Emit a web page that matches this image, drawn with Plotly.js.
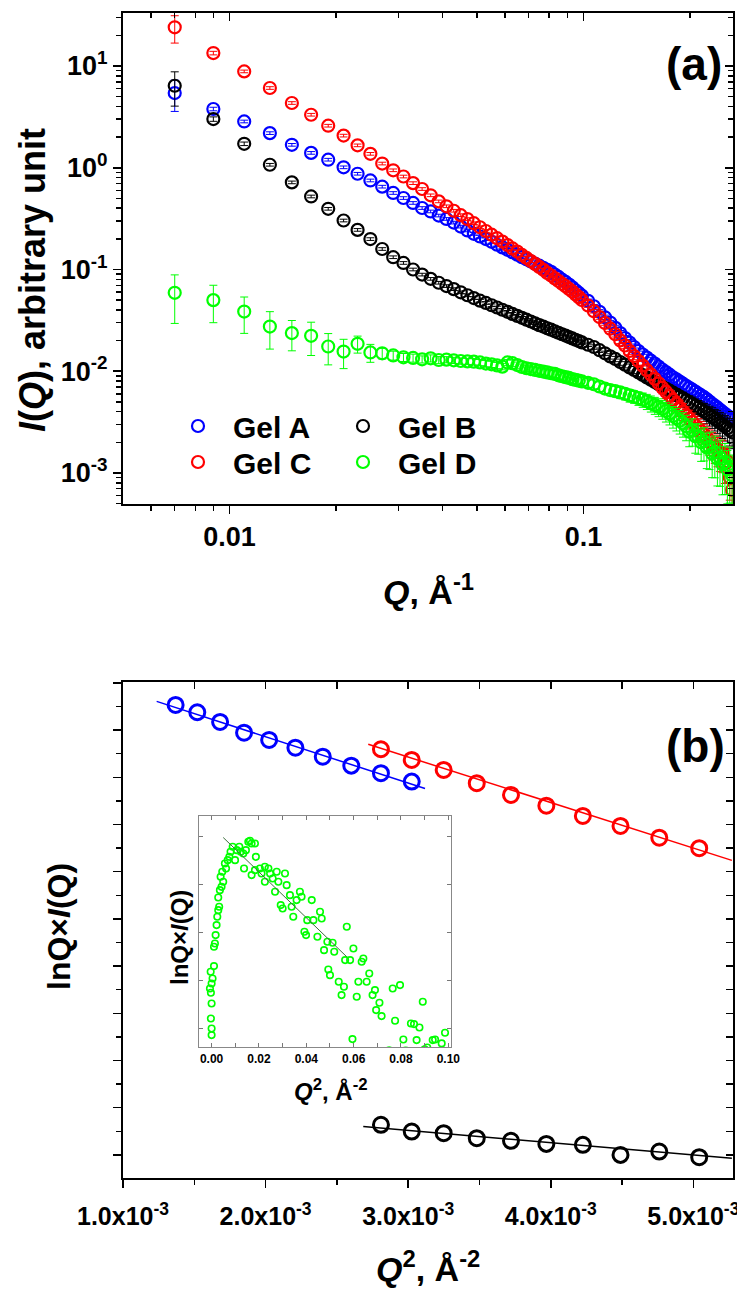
<!DOCTYPE html>
<html><head><meta charset="utf-8">
<script src="https://cdn.plot.ly/plotly-3.0.1.min.js"></script>
<style>html,body{margin:0;padding:0;background:#fff}#chart{width:737px;height:1290px}</style>
</head><body><div id="chart"></div>
<script>
// ---------- Panel (a): SANS intensity vs Q ----------
const Q = [0.007,0.009,0.011,0.013,0.015,0.017,0.019,0.021,0.023,0.025,
0.027,0.029,0.031,0.033,0.035,0.037,0.039,0.041,0.043,0.045,
0.047,0.049,0.051,0.053,0.055,0.057,0.059,0.061,0.063,0.065,
0.067,0.069,0.071,0.073,0.075,0.077,0.079,0.081,0.083,0.085,
0.087,0.089,0.091,0.093,0.095,0.097,0.099,0.103,0.107,0.111,
0.115,0.119,0.123,0.127,0.131,0.135,0.139,0.143,0.147,0.151,
0.155,0.159,0.163,0.167,0.171,0.175,0.179,0.183,0.187,0.191,
0.195,0.199,0.203,0.207,0.211,0.215,0.219,0.223,0.227,0.231,
0.235,0.239,0.243,0.247,0.251,0.255,0.259,0.263];

const gelA = [5.42,3.78,2.85,2.19,1.68,1.40,1.20,1.01,0.873,0.750,
0.652,0.565,0.504,0.451,0.402,0.372,0.339,0.314,0.289,0.264,
0.242,0.224,0.211,0.199,0.187,0.175,0.165,0.156,0.148,0.140,
0.132,0.126,0.120,0.114,0.109,0.104,0.0991,0.0950,0.0893,0.0845,
0.0794,0.0755,0.0710,0.0668,0.0625,0.0588,0.0553,0.0492,0.0435,0.0384,
0.0339,0.0301,0.0267,0.0237,0.0212,0.0191,0.0173,0.0158,0.0146,0.0136,
0.0127,0.0119,0.0111,0.0104,0.00982,0.00925,0.00871,0.00832,0.00791,0.00754,
0.00719,0.00687,0.00659,0.00630,0.00604,0.00578,0.00556,0.00530,0.00504,0.00479,
0.00458,0.00438,0.00417,0.00398,0.00381,0.00365,0.00352,0.00336];

const gelB = [6.40,3.01,1.72,1.07,0.718,0.522,0.395,0.303,0.245,0.199,
0.159,0.132,0.116,0.100,0.0891,0.0809,0.0741,0.0687,0.0641,0.0597,
0.0558,0.0524,0.0494,0.0469,0.0445,0.0423,0.0402,0.0384,0.0366,0.0350,
0.0335,0.0321,0.0308,0.0296,0.0284,0.0275,0.0264,0.0256,0.0247,0.0239,
0.0231,0.0224,0.0217,0.0210,0.0204,0.0198,0.0192,0.0182,0.0173,0.0161,
0.0150,0.0140,0.0132,0.0123,0.0116,0.0109,0.0103,0.00973,0.00918,0.00869,
0.00826,0.00783,0.00745,0.00708,0.00675,0.00644,0.00615,0.00589,0.00562,0.00540,
0.00516,0.00495,0.00476,0.00456,0.00437,0.00419,0.00402,0.00386,0.00371,0.00356,
0.00340,0.00327,0.00311,0.00299,0.00286,0.00275,0.00263,0.00251];

const gelC = [24.0,13.4,8.85,6.08,4.33,3.32,2.59,2.07,1.66,1.37,
1.10,0.944,0.820,0.706,0.618,0.536,0.467,0.418,0.378,0.342,
0.313,0.285,0.260,0.239,0.220,0.203,0.188,0.174,0.161,0.150,
0.139,0.130,0.121,0.1135,0.106,0.0993,0.0925,0.0873,0.0818,0.0771,
0.0723,0.0685,0.0644,0.0608,0.0569,0.0535,0.0501,0.0442,0.0389,0.0341,
0.0298,0.0262,0.0231,0.0201,0.0179,0.0158,0.0141,0.0126,0.01135,0.01023,
0.00929,0.00843,0.00762,0.00689,0.00628,0.00573,0.00522,0.00481,0.00439,0.00404,
0.00372,0.00342,0.00318,0.00294,0.00275,0.00256,0.00239,0.00223,0.00207,0.00192,
0.00180,0.00169,0.00157,0.00155,0.00125,0.00130,0.00090,0.00068];

const gelD = [0.059,0.050,0.0386,0.0275,0.0237,0.0223,0.0175,0.0156,0.0186,0.0153,
0.0150,0.0143,0.0137,0.0135,0.0131,0.0134,0.0129,0.0130,0.0128,0.0126,
0.0125,0.0124,0.0122,0.0119,0.0117,0.0114,0.0111,0.0122,0.0120,0.0115,
0.0110,0.0107,0.0105,0.0103,0.0101,0.00993,0.00973,0.00955,0.00942,0.00912,
0.00893,0.00875,0.00859,0.00836,0.00822,0.00807,0.00794,0.00769,0.00745,0.00708,
0.00676,0.00653,0.00637,0.00619,0.00600,0.00578,0.00562,0.00543,0.00526,0.00506,
0.00484,0.00465,0.00447,0.00427,0.00406,0.00385,0.00363,0.00345,0.00326,0.00308,
0.00288,0.00255,0.00262,0.00230,0.00228,0.00200,0.00205,0.00178,0.00180,0.00155,
0.00160,0.00138,0.00142,0.00122,0.00128,0.00108,0.00115,0.00095];

// relative (fractional) error bars
const relErrA = [0.34,0.04,0.03,0.03,0.03,0.03,0.03,0.03,0.03,0.03,
0.03,0.03,0.03,0.03,0.03,0.03,0.03,0.03,0.03,0.03,
0.03,0.03,0.03,0.03,0.03,0.03,0.03,0.03,0.03,0.03,
0.03,0.03,0.03,0.03,0.03,0.03,0.03,0.03,0.03,0.03,
0.03,0.03,0.03,0.03,0.03,0.03,0.03,0.04,0.04,0.05,
0.05,0.05,0.06,0.06,0.06,0.07,0.07,0.07,0.08,0.08,
0.08,0.09,0.09,0.09,0.10,0.10,0.10,0.11,0.11,0.11,
0.12,0.12,0.12,0.12,0.12,0.12,0.12,0.12,0.12,0.12,
0.13,0.13,0.13,0.13,0.13,0.13,0.13,0.13];
const relErrB = [0.37,0.05,0.04,0.03,0.03,0.03,0.03,0.03,0.03,0.03,
0.03,0.03,0.03,0.03,0.03,0.03,0.03,0.03,0.03,0.03,
0.03,0.03,0.03,0.03,0.03,0.03,0.03,0.03,0.03,0.03,
0.03,0.03,0.03,0.03,0.03,0.03,0.03,0.03,0.03,0.03,
0.03,0.03,0.03,0.03,0.04,0.04,0.04,0.04,0.05,0.05,
0.05,0.06,0.06,0.07,0.07,0.08,0.08,0.09,0.09,0.10,
0.10,0.11,0.11,0.12,0.12,0.13,0.13,0.14,0.14,0.15,
0.15,0.16,0.17,0.17,0.18,0.19,0.20,0.21,0.22,0.23,
0.24,0.25,0.26,0.27,0.28,0.29,0.30,0.31];
const relErrC = [0.30,0.04,0.03,0.03,0.03,0.03,0.03,0.03,0.03,0.03,
0.03,0.03,0.03,0.03,0.03,0.03,0.03,0.03,0.03,0.03,
0.03,0.03,0.03,0.03,0.03,0.03,0.03,0.03,0.03,0.03,
0.03,0.03,0.03,0.03,0.03,0.03,0.03,0.03,0.03,0.03,
0.03,0.03,0.03,0.03,0.03,0.03,0.03,0.04,0.04,0.05,
0.05,0.06,0.06,0.07,0.07,0.08,0.08,0.09,0.10,0.10,
0.11,0.12,0.12,0.13,0.14,0.15,0.16,0.17,0.18,0.19,
0.20,0.21,0.22,0.23,0.24,0.25,0.26,0.27,0.28,0.30,
0.31,0.32,0.34,0.35,0.37,0.38,0.40,0.42];
const relErrD = [0.50,0.40,0.39,0.40,0.33,0.36,0.34,0.32,0.19,0.20,
0.12,0.10,0.09,0.09,0.08,0.08,0.08,0.07,0.07,0.07,
0.07,0.07,0.07,0.07,0.07,0.07,0.07,0.07,0.07,0.07,
0.07,0.07,0.07,0.07,0.08,0.08,0.08,0.08,0.08,0.08,
0.08,0.08,0.09,0.09,0.09,0.09,0.09,0.10,0.10,0.11,
0.11,0.12,0.12,0.13,0.13,0.14,0.14,0.15,0.16,0.17,
0.18,0.19,0.20,0.21,0.22,0.23,0.24,0.25,0.26,0.27,
0.28,0.29,0.30,0.32,0.33,0.35,0.36,0.38,0.40,0.42,
0.44,0.46,0.48,0.50,0.52,0.54,0.56,0.58];

const seriesNames = ['Gel A','Gel B','Gel C','Gel D'];
const xTickValsA = [0.01, 0.1];
const xTickTextA = ['0.01', '0.1'];
const yTickValsA = [0.001, 0.01, 0.1, 1, 10];
const yTickTextA = ['10<sup>-3</sup>','10<sup>-2</sup>','10<sup>-1</sup>','10<sup>0</sup>','10<sup>1</sup>'];
const xMinorA = [0.006,0.007,0.008,0.009,0.02,0.03,0.04,0.05,0.06,0.07,0.08,0.09,0.2];
const yMinorA = [0.0005,0.0006,0.0007,0.0008,0.0009,
0.002,0.003,0.004,0.005,0.006,0.007,0.008,0.009,
0.02,0.03,0.04,0.05,0.06,0.07,0.08,0.09,
0.2,0.3,0.4,0.5,0.6,0.7,0.8,0.9,
2,3,4,5,6,7,8,9,20,30];

// ---------- Panel (b): lnQ x I(Q) vs Q^2 (arbitrary vertical units) ----------
const q2A = [0.001369,0.001521,0.001681,0.001849,0.002025,0.002209,0.002401,0.002601,0.002809,0.003025];
const bA  = [9.534,9.379,9.174,8.947,8.792,8.629,8.438,8.248,8.087,7.909];
const q2C = [0.002809,0.003025,0.003249,0.003481,0.003721,0.003969,0.004225,0.004489,0.004761,0.005041];
const bC  = [8.595,8.369,8.157,7.875,7.627,7.400,7.182,6.970,6.722,6.498];
const q2B = [0.002809,0.003025,0.003249,0.003481,0.003721,0.003969,0.004225,0.004489,0.004761,0.005041];
const bB  = [0.636,0.494,0.460,0.354,0.297,0.233,0.212,0.000,0.070,-0.049];
const fitAx = [0.001236, 0.003118], fitAy = [9.610, 7.763];
const fitCx = [0.002720, 0.005270], fitCy = [8.700, 6.240];
const fitBx = [0.002685, 0.005270], fitBy = [0.600, -0.070];
const xTickValsB = [0.001,0.002,0.003,0.004,0.005];
const xTickTextB = ['1.0x10<sup>-3</sup>','2.0x10<sup>-3</sup>','3.0x10<sup>-3</sup>','4.0x10<sup>-3</sup>','5.0x10<sup>-3</sup>'];

// ---------- Inset: Gel D ----------
const insetQ2 = [0.0000,0.0000,-0.0003,0.0000,-0.0003,-0.0007,0.0000,0.0004,-0.0004,0.0010,
0.0010,0.0014,0.0017,0.0021,0.0024,0.0028,0.0032,0.0028,0.0035,0.0042,
0.0049,0.0038,0.0045,0.0061,0.0056,0.0068,0.0075,0.0080,0.0089,0.0099,
0.0106,0.0117,0.0123,0.0134,0.0137,0.0145,0.0155,0.0162,0.0169,0.0183,
0.0187,0.0169,0.0183,0.0204,0.0225,0.0211,0.0225,0.0240,0.0247,0.0258,
0.0268,0.0275,0.0282,0.0292,0.0300,0.0310,0.0317,0.0331,0.0338,0.0345,
0.0359,0.0373,0.0380,0.0392,0.0399,0.0404,0.0423,0.0430,0.0447,0.0458,
0.0465,0.0475,0.0489,0.0493,0.0500,0.0511,0.0518,0.0537,0.0549,0.0559,
0.0564,0.0571,0.0585,0.0599,0.0613,0.0620,0.0634,0.0641,0.0655,0.0666,
0.0680,0.0690,0.0709,0.0718,0.0695,0.0765,0.0775,0.0796,0.0810,0.0842,
0.0855,0.0866,0.0878,0.0892,0.0911,0.0934,0.0944,0.0972,0.0986,0.0595,
0.0750,0.0820,0.0900];
const insetY = [-0.146,-0.007,0.201,0.514,0.736,0.826,0.931,1.035,1.174,1.292,
1.694,1.764,1.938,2.146,2.319,2.458,2.528,2.722,2.875,2.944,
3.049,3.153,3.257,3.326,3.431,3.500,3.569,3.674,3.778,3.500,
3.708,3.778,3.674,3.639,3.326,3.708,3.882,3.903,3.847,3.847,
3.569,3.188,3.292,3.326,3.361,3.222,3.049,3.326,3.222,3.118,
2.840,3.257,3.049,2.563,2.493,3.222,2.979,2.771,2.528,2.319,
2.667,2.840,2.736,2.007,1.938,2.250,2.667,2.250,1.903,2.424,
2.285,1.625,1.799,1.222,1.104,1.778,1.590,0.965,0.688,0.861,
1.417,2.111,1.417,1.660,0.653,0.965,1.382,1.451,0.965,1.139,
0.688,0.792,0.528,0.250,0.375,0.826,0.153,0.896,-0.236,0.097,
0.083,-0.250,0.014,0.549,-0.403,-0.250,-0.236,-0.319,-0.097,-0.229,
-0.46,-0.47,-0.44];
const insetFitX = [0.0049, 0.0571], insetFitY = [3.972, 1.486];
const insetTickVals = [0,0.02,0.04,0.06,0.08,0.10];
const insetTickText = ['0.00','0.02','0.04','0.06','0.08','0.10'];

// ---------- drawing ----------
const W = 737, H = 1290;
const FONT = 'Arial, "Liberation Sans", Helvetica, sans-serif';
const px = v => v / W, py = v => 1 - v / H;
const BLUE = '#0000ff', RED = '#ff0000', BLACK = '#000000', GREEN = '#00ff00';

function saxs(name, y, rel, color, legend) {
  return {type:'scatter', mode:'markers', x:Q, y:y, name:name, legend:legend,
    xaxis:'x', yaxis:'y', cliponaxis:true,
    marker:{symbol:'circle-open', size:12, color:color, line:{width:2.2, color:color}},
    error_y:{type:'data', array:y.map((v,i)=>v*rel[i]), color:color, thickness:1, width:4}};
}
function pts(x, y, color, xa, ya, size, lw) {
  return {type:'scatter', mode:'markers', x:x, y:y, xaxis:xa, yaxis:ya, showlegend:false,
    marker:{symbol:'circle-open', size:size, color:color, line:{width:lw, color:color}}};
}
function line(x, y, color, xa, ya, w) {
  return {type:'scatter', mode:'lines', x:x, y:y, xaxis:xa, yaxis:ya, showlegend:false,
    line:{color:color, width:w}};
}
const dummy = (xa, ya) => ({type:'scatter', mode:'markers', x:[], y:[], xaxis:xa, yaxis:ya, showlegend:false, hoverinfo:'skip'});

const traces = [
  saxs(seriesNames[0], gelA, relErrA, BLUE, 'legend'),
  saxs(seriesNames[1], gelB, relErrB, BLACK, 'legend2'),
  saxs(seriesNames[2], gelC, relErrC, RED, 'legend3'),
  saxs(seriesNames[3], gelD, relErrD, GREEN, 'legend4'),
  dummy('x2','y'), dummy('x','y2'),
  line(fitAx, fitAy, BLUE, 'x3','y3', 1.5),
  line(fitCx, fitCy, RED, 'x3','y3', 1.5),
  line(fitBx, fitBy, BLACK, 'x3','y3', 1.5),
  pts(q2A, bA, BLUE, 'x3','y3', 15, 3),
  pts(q2C, bC, RED, 'x3','y3', 15, 3),
  pts(q2B, bB, BLACK, 'x3','y3', 15, 3),
  dummy('x4','y3'), dummy('x3','y4'),
  pts(insetQ2, insetY, GREEN, 'x5','y5', 6.5, 1.6),
  line(insetFitX, insetFitY, '#3c6e3c', 'x5','y5', 1)
];

const tf = (s) => ({family:FONT, size:s, color:'#000', weight:'bold'});
const noGrid = {showgrid:false, zeroline:false};

const domXA = [px(123), px(733)], domYA = [py(504), py(13)];
const domXB = [px(123), px(733)], domYB = [py(1178), py(682)];
const xRangeA = [Math.log10(0.005), Math.log10(0.2645)];
const yRangeA = [-3.305, 1.521];
const xRangeB = [0.001, 0.005278];
const yRangeB = [-0.49, 10.02];

function leg(xc, yc) {
  return {x:px(xc - 35), y:py(yc), xanchor:'left', yanchor:'middle', xref:'paper', yref:'paper',
    bgcolor:'rgba(0,0,0,0)', borderwidth:0, itemwidth:60, font:tf(30)};
}
function ann(text, x, y, size, angle) {
  return {text:text, x:px(x), y:py(y), xref:'paper', yref:'paper', xanchor:'center', yanchor:'middle',
    showarrow:false, textangle:angle || 0, font:{family:FONT, size:size, color:'#000'}};
}

const layout = {
  width:W, height:H, margin:{l:0,r:0,t:0,b:0}, paper_bgcolor:'#fff', plot_bgcolor:'#fff',
  font:{family:FONT, color:'#000'},
  showlegend:true,
  xaxis:Object.assign({domain:domXA, anchor:'y', type:'log', range:xRangeA,
    tickmode:'array', tickvals:xTickValsA, ticktext:xTickTextA,
    ticks:'outside', ticklen:8, tickwidth:1.5, tickcolor:'#000',
    minor:{tickmode:'array', tickvals:xMinorA, ticks:'outside', ticklen:5, tickwidth:1.5, tickcolor:'#000'},
    showline:true, linecolor:'#000', linewidth:2, mirror:true, tickfont:tf(27)}, noGrid),
  yaxis:Object.assign({domain:domYA, anchor:'x', type:'log', range:yRangeA,
    tickmode:'array', tickvals:yTickValsA, ticktext:yTickTextA,
    ticks:'outside', ticklen:8, tickwidth:1.5, tickcolor:'#000',
    minor:{tickmode:'array', tickvals:yMinorA, ticks:'outside', ticklen:5, tickwidth:1.5, tickcolor:'#000'},
    showline:true, linecolor:'#000', linewidth:2, mirror:true, tickfont:tf(27)}, noGrid),
  xaxis2:Object.assign({overlaying:'x', side:'top', anchor:'y', type:'log', range:xRangeA,
    tickmode:'array', tickvals:xTickValsA, ticks:'inside', ticklen:8, tickwidth:1.5, tickcolor:'#000',
    minor:{tickmode:'array', tickvals:xMinorA, ticks:'inside', ticklen:5, tickwidth:1.5, tickcolor:'#000'},
    showticklabels:false, showline:false}, noGrid),
  yaxis2:Object.assign({overlaying:'y', side:'right', anchor:'x', type:'log', range:yRangeA,
    tickmode:'array', tickvals:yTickValsA, ticks:'inside', ticklen:8, tickwidth:1.5, tickcolor:'#000',
    minor:{tickmode:'array', tickvals:yMinorA, ticks:'inside', ticklen:5, tickwidth:1.5, tickcolor:'#000'},
    showticklabels:false, showline:false}, noGrid),

  xaxis3:Object.assign({domain:domXB, anchor:'y3', range:xRangeB,
    tickmode:'array', tickvals:xTickValsB, ticktext:xTickTextB, ticklabeloverflow:'allow',
    ticklabelstandoff:7,
    ticks:'outside', ticklen:8, tickwidth:1.5, tickcolor:'#000',
    minor:{tick0:0, dtick:0.0005, ticks:'outside', ticklen:5, tickwidth:1.5, tickcolor:'#000'},
    showline:true, linecolor:'#000', linewidth:2, mirror:true, tickfont:tf(25)}, noGrid),
  yaxis3:Object.assign({domain:domYB, anchor:'x3', range:yRangeB,
    tickmode:'linear', tick0:0, dtick:1, ticks:'outside', ticklen:8, tickwidth:1.5, tickcolor:'#000',
    minor:{tick0:0, dtick:0.5, ticks:'outside', ticklen:5, tickwidth:1.5, tickcolor:'#000'},
    showticklabels:false, showline:true, linecolor:'#000', linewidth:2, mirror:true}, noGrid),
  xaxis4:Object.assign({overlaying:'x3', side:'top', anchor:'y3', range:xRangeB,
    tickmode:'linear', tick0:0, dtick:0.0005, ticks:'inside', ticklen:7, tickwidth:1.5, tickcolor:'#000',
    showticklabels:false, showline:false}, noGrid),
  yaxis4:Object.assign({overlaying:'y3', side:'right', anchor:'x3', range:yRangeB,
    tickmode:'linear', tick0:0, dtick:0.5, ticks:'inside', ticklen:7, tickwidth:1.5, tickcolor:'#000',
    showticklabels:false, showline:false}, noGrid),

  xaxis5:Object.assign({domain:[px(199.3), px(450.7)], anchor:'y5', range:[-0.0052, 0.1010],
    tickmode:'array', tickvals:insetTickVals, ticktext:insetTickText,
    ticks:'inside', ticklen:4, tickwidth:1, tickcolor:'#777',
    minor:{tick0:0, dtick:0.01, ticks:'inside', ticklen:4, tickwidth:1, tickcolor:'#777'},
    showline:true, linecolor:'#888', linewidth:1, mirror:'ticks', tickfont:tf(12)}, noGrid),
  yaxis5:Object.assign({domain:[py(1047.3), py(816)], anchor:'x5', range:[-0.40, 4.42],
    tickmode:'linear', tick0:0, dtick:1, ticks:'inside', ticklen:4, tickwidth:1, tickcolor:'#777',
    showticklabels:false, showline:true, linecolor:'#888', linewidth:1, mirror:'ticks'}, noGrid),

  legend:leg(198, 426),
  legend2:leg(363, 426),
  legend3:leg(198, 462),
  legend4:leg(363, 462),

  annotations:[
    ann('<b>(a)</b>', 694, 64, 46),
    ann('<b>(b)</b>', 695, 746, 46),
    ann('<b><i>Q</i>, Å<sup>-1</sup></b>', 428, 590, 34),
    ann('<b><i>I</i>(<i>Q</i>), arbitrary unit</b>', 33, 280, 36, -90),
    ann('<b>lnQ×<i>I</i>(Q)</b>', 59, 927, 32, -90),
    ann('<b><i>Q</i><sup>2</sup>, Å<sup>-2</sup></b>', 428, 1266, 34),
    ann('<b>lnQ×<i>I</i>(Q)</b>', 179, 938, 24, -90),
    ann('<b><i>Q</i><sup>2</sup>, Å<sup>-2</sup></b>', 331, 1090, 24)
  ]
};

Plotly.newPlot('chart', traces, layout, {displayModeBar:false, staticPlot:true});
</script></body></html>
